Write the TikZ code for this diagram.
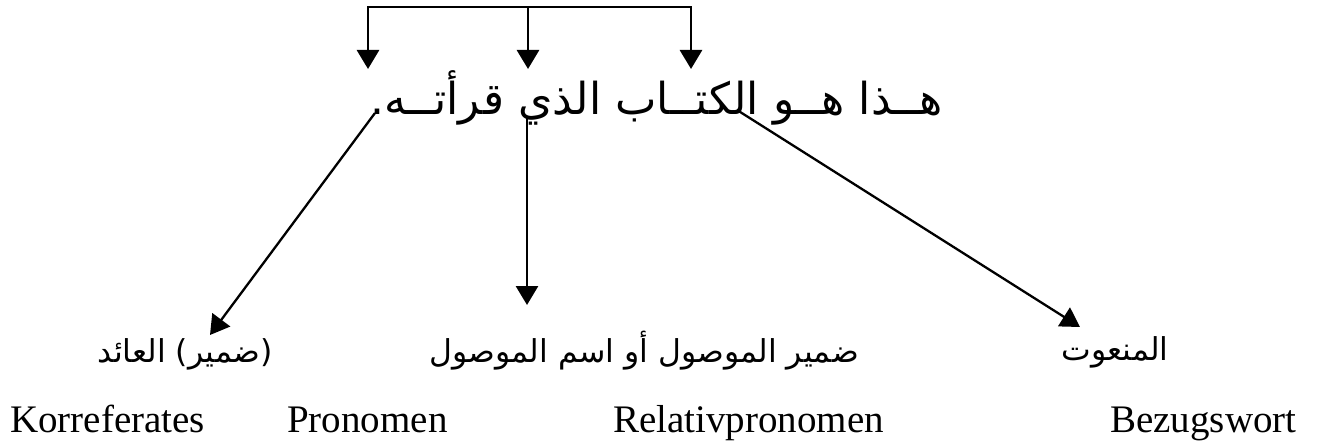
\documentclass[tikz,border=0pt]{standalone}
\usepackage{fontspec}
\setmainfont{Liberation Serif}
\newfontfamily\arabicfont[Script=Arabic]{DejaVu Sans}
\TeXXeTstate=1
\usetikzlibrary{arrows.meta}
\begin{document}
\begin{tikzpicture}[x=1pt,y=-1pt,
  conn/.style={line width=2.3pt, -{Triangle[length=19pt,width=22pt]}},
  thick conn/.style={conn, line width=2.8pt},
  ger/.style={font=\fontsize{39}{39}\selectfont, inner sep=0pt, anchor=base west},
  arl/.style={font=\arabicfont\fontsize{31.5}{31.5}\selectfont, inner sep=0pt, anchor=base},
  ars/.style={font=\arabicfont\fontsize{44}{44}\selectfont, inner sep=0pt, anchor=base}]
\useasboundingbox (0,0) rectangle (1321,446);
% sentence
\node[ars] (sent) at (657,115) {\beginR هــذا هــو الكتــاب الذي قرأتــه.\endR};
% labels
\node[arl] (l1) at (185,362) {\beginR (ضمير) العائد\endR};
\node[arl] (l2) at (644,362) {\beginR ضمير الموصول أو اسم الموصول\endR};
\node[arl] (l3) at (1115,360) {\beginR المنعوت\endR};
\node[ger] (g1) at (10,432) {Korreferates};
\node[ger] (g2) at (287,432) {Pronomen};
\node[ger] (g3) at (613,432) {Relativpronomen};
\node[ger] (g4) at (1110,432) {Bezugswort};
% coordinates
\coordinate (b1) at (368,7);
\coordinate (b2) at (528,7);
\coordinate (b3) at (691,7);
\coordinate (a1) at (368,69);
\coordinate (a2) at (528,69);
\coordinate (a3) at (691,69);
\coordinate (s1) at (375,113);
\coordinate (s2) at (527,118);
\coordinate (s3) at (737,110);
\coordinate (e1) at (210,335);
\coordinate (e2) at (527,305);
\coordinate (e3) at (1080,327);
% top bracket
\draw[thick conn] (b2) -| (a1);
\draw[thick conn] (b2) -| (a3);
\draw[thick conn] (b2) -- (a2);
% arrows down
\draw[conn] (s1) -- (e1);
\draw[thick conn] (s2) -- (e2);
\draw[conn] (s3) -- (e3);
\end{tikzpicture}
\end{document}
